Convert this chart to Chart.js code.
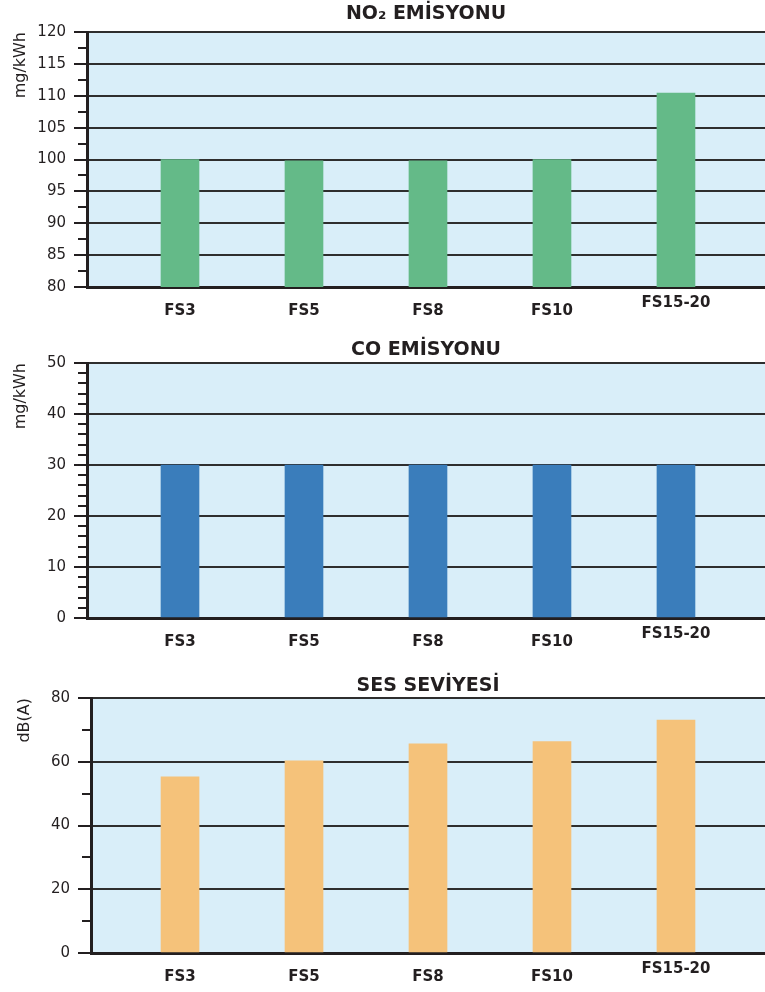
<!DOCTYPE html>
<html>
<head>
<meta charset="utf-8">
<script src="https://cdn.jsdelivr.net/npm/chart.js@4.4.1/dist/chart.umd.min.js"></script>
<style>
html,body{margin:0;padding:0;background:#ffffff;width:765px;height:992px;overflow:hidden}
canvas{position:absolute;left:0;display:block}
</style>
</head>
<body>
<canvas id="c1" width="765" height="330" style="top:0px"></canvas>
<canvas id="c2" width="765" height="330" style="top:330px"></canvas>
<canvas id="c3" width="765" height="332" style="top:660px"></canvas>
<script>
// ---- data ----
const categories = ['FS3', 'FS5', 'FS8', 'FS10', 'FS15-20'];
const no2Values = [100, 99.8, 99.8, 100, 110.4];
const coValues = [30, 30, 30, 30, 30];
const noiseValues = [55.3, 60.3, 65.6, 66.3, 73.1];
const chartTitles = ['NO₂ EMİSYONU', 'CO EMİSYONU', 'SES SEVİYESİ'];
const yAxisTitles = ['mg/kWh', 'mg/kWh', 'dB(A)'];
const no2Range = [80, 120];
const coRange = [0, 50];
const noiseRange = [0, 80];
const majorSteps = [5, 10, 20];
const minorSteps = [2.5, 2, 10];

// ---- style ----
const INK = '#231f20';
const GRID = '#2e2e2e';
const PLOT_BG = '#d9eef9';
const barColors = ['#64ba88', '#3a7dbb', '#f5c27a'];

const plotBg = {
  id: 'plotBg',
  beforeDraw(chart) {
    const { ctx, chartArea: a } = chart;
    ctx.save();
    ctx.fillStyle = PLOT_BG;
    ctx.fillRect(a.left, a.top, a.right - a.left, a.bottom - a.top);
    ctx.restore();
  }
};

function isMajor(v, major) {
  return Math.abs(v / major - Math.round(v / major)) < 1e-6;
}

function makeChart(id, L) {
  const major = L.major, minor = L.minor;
  return new Chart(document.getElementById(id), {
    type: 'bar',
    data: {
      datasets: [{
        data: L.values.map((v, i) => ({ x: i, y: v })),
        backgroundColor: L.color,
        borderWidth: 0,
        barThickness: 38
      }]
    },
    plugins: [plotBg],
    options: {
      responsive: false,
      animation: false,
      devicePixelRatio: 1,
      layout: { padding: 0 },
      plugins: {
        legend: { display: false },
        tooltip: { enabled: false },
        title: {
          display: true,
          text: L.title,
          fullSize: false,
          color: INK,
          font: { family: 'DejaVu Sans', size: 19, weight: 'bold', lineHeight: 1.2 },
          padding: { top: L.titleTop, bottom: L.titleBottom }
        }
      },
      scales: {
        x: {
          type: 'linear',
          min: L.xMin,
          max: L.xMax,
          offset: false,
          grid: { display: false, drawTicks: false, offset: false },
          border: { display: true, color: INK, width: 3 },
          afterBuildTicks: s => {
            s.ticks = [s.min].concat(categories.map((c, i) => i), [s.max]).map(v => ({ value: v }));
          },
          afterFit: s => { s.height = L.xHeight; s.paddingLeft = 0; s.paddingRight = 0; },
          ticks: {
            autoSkip: false,
            maxRotation: 0,
            minRotation: 0,
            padding: 15,
            color: INK,
            font: ctx => ({
              family: 'DejaVu Sans', size: 15, weight: 'bold',
              lineHeight: (ctx.tick && ctx.tick.value === categories.length - 1) ? 0.15 : 1.2
            }),
            callback: v => (Number.isInteger(v) && categories[v] !== undefined) ? categories[v] : ''
          }
        },
        y: {
          min: L.range[0],
          max: L.range[1],
          afterFit: s => { s.width = L.yWidth; },
          border: { display: true, color: INK, width: 3 },
          grid: {
            color: GRID,
            lineWidth: ctx => (ctx.tick && !isMajor(ctx.tick.value, major)) ? 0 : 2,
            tickColor: INK,
            tickWidth: 2,
            tickLength: 13,
            tickBorderDash: ctx => (ctx.tick && !isMajor(ctx.tick.value, major)) ? [9, 100] : [],
            tickBorderDashOffset: ctx => (ctx.tick && !isMajor(ctx.tick.value, major)) ? 105 : 0
          },
          ticks: {
            stepSize: minor,
            autoSkip: false,
            maxTicksLimit: 100,
            padding: 8,
            color: INK,
            font: { family: 'DejaVu Sans', size: 15 },
            callback: v => isMajor(v, major) ? String(v) : ''
          },
          title: {
            display: true,
            text: L.yTitle,
            align: 'end',
            color: INK,
            font: { family: 'DejaVu Sans', size: 16 },
            padding: { top: L.yTitlePad, bottom: 0 }
          }
        }
      }
    }
  });
}

makeChart('c1', {
  values: no2Values, color: barColors[0], title: chartTitles[0], yTitle: yAxisTitles[0],
  range: no2Range, major: majorSteps[0], minor: minorSteps[0],
  titleTop: 2.6, titleBottom: 6.6, xHeight: 43, yWidth: 87, yTitlePad: 11,
  xMin: -0.75, xMax: 4.718
});
makeChart('c2', {
  values: coValues, color: barColors[1], title: chartTitles[1], yTitle: yAxisTitles[1],
  range: coRange, major: majorSteps[1], minor: minorSteps[1],
  titleTop: 8.6, titleBottom: 1.6, xHeight: 42, yWidth: 87, yTitlePad: 11,
  xMin: -0.75, xMax: 4.718
});
makeChart('c3', {
  values: noiseValues, color: barColors[2], title: chartTitles[2], yTitle: yAxisTitles[2],
  range: noiseRange, major: majorSteps[2], minor: minorSteps[2],
  titleTop: 14.6, titleBottom: 0.6, xHeight: 39, yWidth: 91, yTitlePad: 15,
  xMin: -0.718, xMax: 4.718
});
</script>
</body>
</html>
